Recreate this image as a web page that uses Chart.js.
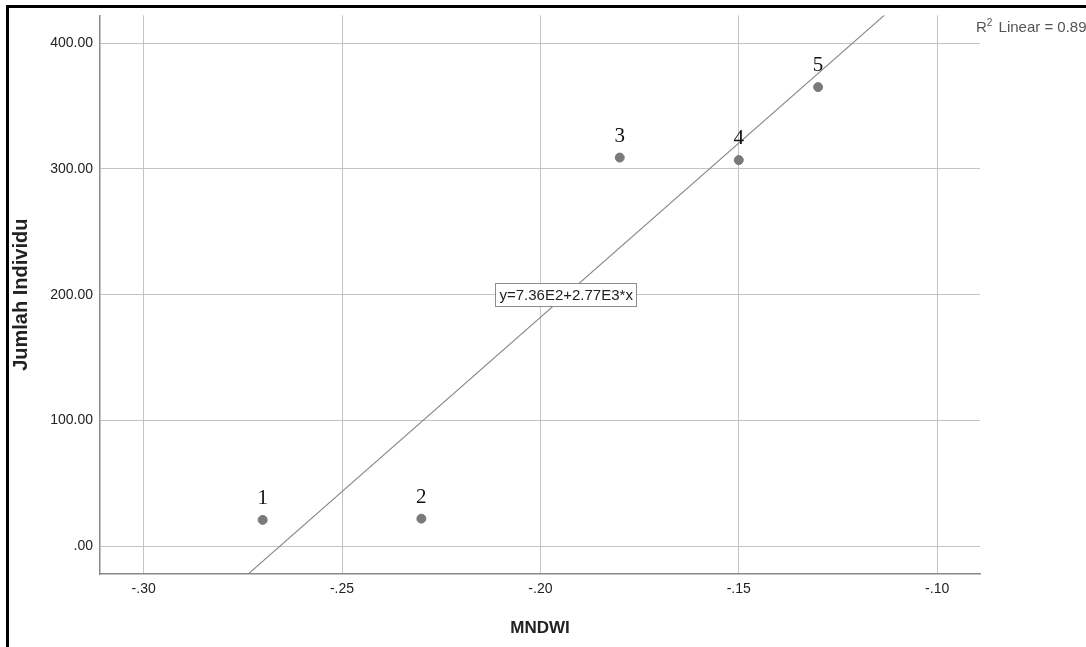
<!DOCTYPE html>
<html>
<head>
<meta charset="utf-8">
<script src="https://cdn.jsdelivr.net/npm/chart.js@4"></script>
<style>
    body { margin: 0; background: #fff; }
    #wrap { position: relative; width: 1086px; height: 647px; overflow: hidden; }
    #frame { position: absolute; left: 6px; top: 5px; width: 1200px; height: 700px;
             border-top: 3px solid #000; border-left: 3px solid #000; pointer-events: none; }
</style>
</head>
<body>
<div id="wrap">
    <canvas id="grafico" width="1086" height="647"></canvas>
    <div id="frame"></div>
</div>
<script>
//DATA
const mndwi = [-0.27, -0.23, -0.18, -0.15, -0.13];
const jumlahIndividu = [21, 22, 309, 307, 365];
const pointNames = ['1', '2', '3', '4', '5'];
const xTicks = [-0.30, -0.25, -0.20, -0.15, -0.10];
const yTicks = [0, 100, 200, 300, 400];
const intercept = 736;
const slope = 2770;
const rSquared = 0.891;
const xMin = -0.311, xMax = -0.0892;
const yMin = -22, yMax = 422;

//GENERAL FUNCTIONS
function spssNumber(v) {
    return v.toFixed(2).replace(/^(-?)0\./, '$1.');
}

function linePoint(x) {
    return { x: x, y: intercept + slope * x };
}

const points = mndwi.map((x, i) => ({ x: x, y: jumlahIndividu[i] }));

//LABELS PLUGIN
const extras = {
    id: 'extras',
    afterDatasetsDraw(chart) {
        const ctx = chart.ctx;
        const xs = chart.scales.x, ys = chart.scales.y;
        ctx.save();

        // point numbers
        ctx.font = '21px "Liberation Serif", serif';
        ctx.fillStyle = '#111';
        ctx.textAlign = 'center';
        ctx.textBaseline = 'alphabetic';
        points.forEach((p, i) => {
            ctx.fillText(pointNames[i], xs.getPixelForValue(p.x), ys.getPixelForValue(p.y) - 16);
        });

        // equation box
        const eqText = 'y=' + (intercept / 100).toFixed(2) + 'E2+' + (slope / 1000).toFixed(2) + 'E3*x';
        const eqY = 200;
        const cx = xs.getPixelForValue((eqY - intercept) / slope);
        const cy = ys.getPixelForValue(eqY);
        ctx.font = '15px "Liberation Sans", Arial, sans-serif';
        const w = ctx.measureText(eqText).width + 8;
        const h = 23;
        ctx.fillStyle = '#fff';
        ctx.fillRect(cx - w / 2, cy - h / 2, w, h);
        ctx.strokeStyle = '#8c8c8c';
        ctx.lineWidth = 1;
        ctx.strokeRect(Math.round(cx - w / 2) + 0.5, Math.round(cy - h / 2) + 0.5, Math.round(w), h);
        ctx.fillStyle = '#222';
        ctx.textBaseline = 'middle';
        ctx.fillText(eqText, cx, cy + 1);

        // R2 text
        const rx = chart.chartArea.right - 4;
        const ry = 32;
        ctx.textAlign = 'left';
        ctx.textBaseline = 'alphabetic';
        ctx.fillStyle = '#555';
        ctx.font = '15px "Liberation Sans", Arial, sans-serif';
        ctx.fillText('R', rx, ry);
        let off = ctx.measureText('R').width;
        ctx.font = '10px "Liberation Sans", Arial, sans-serif';
        ctx.fillText('2', rx + off, ry - 6);
        off += ctx.measureText('2').width + 2;
        ctx.font = '15px "Liberation Sans", Arial, sans-serif';
        ctx.fillText(' Linear = ' + rSquared.toFixed(3), rx + off, ry);

        ctx.restore();
    }
};

//CHART
const graphic = document.getElementById('grafico');

const graphicForData = new Chart(graphic, {
    type: 'scatter',
    data: {
        datasets: [{
            label: 'Jumlah Individu',
            data: points,
            backgroundColor: '#7a7a7a',
            borderColor: '#7a7a7a',
            pointRadius: 4.5,
            pointHoverRadius: 4.5,
            order: 1
        }, {
            label: 'Linear',
            data: [linePoint(xMin), linePoint(xMax)],
            showLine: true,
            borderColor: '#858585',
            borderWidth: 1.1,
            pointRadius: 0,
            order: 2
        }]
    },
    options: {
        responsive: false,
        animation: false,
        events: [],
        layout: { padding: { top: 13, right: 106, left: 0, bottom: 0 } },
        plugins: { legend: { display: false }, tooltip: { enabled: false } },
        scales: {
            x: {
                type: 'linear',
                min: xMin,
                max: xMax,
                afterBuildTicks: (axis) => { axis.ticks = xTicks.map(v => ({ value: v })); },
                afterFit: (axis) => { axis.height = 73; },
                ticks: {
                    callback: (v) => spssNumber(v),
                    font: { family: '"Liberation Sans", Arial, sans-serif', size: 14 },
                    color: '#222',
                    padding: 7,
                    maxRotation: 0
                },
                grid: { color: '#c4c4c4', lineWidth: 1, drawTicks: false },
                border: { color: '#8a8a8a', width: 1.5 },
                title: {
                    display: true,
                    text: 'MNDWI',
                    font: { family: '"Liberation Sans", Arial, sans-serif', size: 17, weight: 'bold' },
                    color: '#222',
                    padding: { top: 0, bottom: 8 }
                }
            },
            y: {
                type: 'linear',
                min: yMin,
                max: yMax,
                afterBuildTicks: (axis) => { axis.ticks = yTicks.map(v => ({ value: v })); },
                afterFit: (axis) => { axis.width = 100; },
                ticks: {
                    callback: (v) => spssNumber(v),
                    font: { family: '"Liberation Sans", Arial, sans-serif', size: 14 },
                    color: '#222',
                    padding: 7
                },
                grid: { color: '#c4c4c4', lineWidth: 1, drawTicks: false },
                border: { color: '#8a8a8a', width: 1.5 },
                title: {
                    display: true,
                    text: 'Jumlah Individu',
                    font: { family: '"Liberation Sans", Arial, sans-serif', size: 20, weight: 'bold' },
                    color: '#222',
                    padding: { top: 9, bottom: 0 }
                }
            }
        }
    },
    plugins: [extras]
});
</script>
</body>
</html>
